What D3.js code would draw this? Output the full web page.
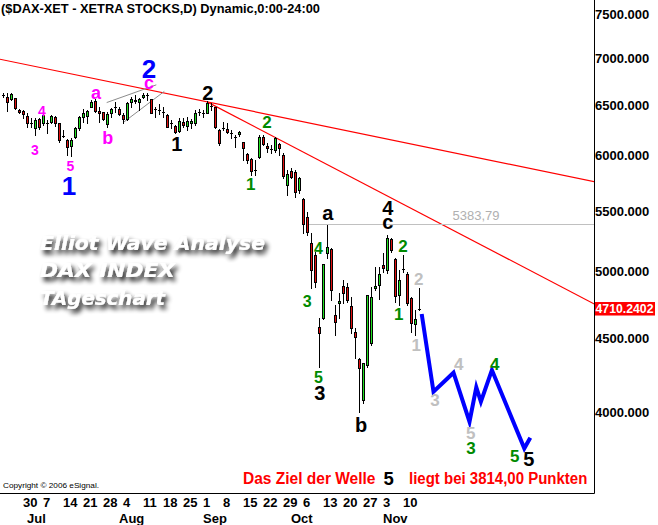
<!DOCTYPE html>
<html><head><meta charset="utf-8">
<script src="https://cdn.jsdelivr.net/npm/d3@7"></script>
<style>body{margin:0;background:#fff}svg{display:block}</style>
</head><body>
<svg id="chart" width="658" height="525"></svg>
<script>
// ---------- data ----------
const firstDay = "2008-06-23";
const lastDay = "2008-11-14";
const open = [6597,6583,6555,6566,6446,6436,6388,6311,6262,6354,
6311,6317,6327,6371,6311,6186,6147,6089,6174,6262,
6378,6385,6480,6541,6436,6425,6301,6412,6480,6456,
6395,6351,6531,6541,6531,6576,6600,6555,6453,6446,
6429,6395,6311,6285,6238,6327,6288,6311,6311,6429,
6412,6418,6487,6474,6245,6262,6252,6219,6180,6203,
6124,6013,5965,5863,5982,6180,6089,6058,6051,6109,
6000,5725,5854,5845,5680,5600,5446,5227,5126,4577,
4638,5140,5172,4662,4749,4881,4875,4729,4541,4347,
4076,4308,4459,4863,4888,5046,5006,5255,5092,4812,
5014,4973,4787,4597,4706];
const high = [6618,6618,6618,6570,6453,6446,6412,6361,6361,6367,
6453,6344,6395,6385,6317,6245,6154,6164,6278,6380,
6453,6446,6548,6555,6480,6429,6429,6463,6531,6474,
6412,6531,6583,6600,6566,6618,6618,6560,6480,6507,
6480,6400,6344,6290,6361,6361,6371,6351,6446,6453,
6446,6541,6514,6480,6250,6327,6311,6245,6196,6238,
6131,6020,5972,5956,6196,6196,6115,6099,6180,6115,
6020,5863,5882,5863,5801,5609,5489,5305,5152,4638,
5055,5375,5180,4737,4825,4927,4901,4799,4565,4354,
4325,4815,4875,5032,5032,5140,5291,5263,5100,5006,
5126,4993,4799,4699,4863];
const low = [6576,6439,6548,6453,6412,6361,6278,6278,6196,6252,
6295,6219,6317,6285,6131,6180,6004,5994,6164,6245,
6327,6311,6478,6429,6327,6344,6278,6378,6429,6395,
6311,6344,6480,6514,6446,6566,6548,6412,6371,6402,
6378,6272,6262,6219,6228,6278,6245,6262,6295,6395,
6378,6412,6446,6262,6099,6245,6212,6164,6083,6186,
5956,5925,5817,5817,5972,6099,6035,6025,6035,6004,
5789,5635,5789,5620,5651,5307,5291,4863,4875,4296,
4630,5100,4774,4518,4638,4749,4761,4530,4354,4002,
4055,4296,4447,4850,4779,4993,4980,5152,4761,4737,
4993,4737,4541,4518,4699];
const close = [6597,6531,6611,6463,6423,6402,6311,6311,6344,6272,
6395,6317,6385,6311,6147,6186,6083,6147,6262,6378,
6418,6439,6528,6439,6412,6351,6402,6453,6480,6402,
6351,6514,6555,6548,6555,6600,6600,6418,6453,6446,
6429,6278,6311,6228,6337,6295,6337,6337,6418,6429,
6412,6514,6487,6278,6121,6262,6222,6219,6180,6222,
6067,5956,5857,5863,6180,6106,6067,6058,6164,6067,
5808,5826,5801,5665,5789,5383,5318,5006,4914,4534,
5052,5188,4850,4614,4769,4825,4774,4565,4506,4286,
4319,4812,4799,4881,4975,5020,5263,5166,4804,4927,
5014,4754,4607,4631,4710];

const priceTicks = [4000,4500,5000,5500,6000,6500,7000,7500];
const dayTicks = ["2008-06-30","2008-07-07","2008-07-14","2008-07-21","2008-07-28",
  "2008-08-04","2008-08-11","2008-08-18","2008-08-25","2008-09-01","2008-09-08",
  "2008-09-15","2008-09-22","2008-09-29","2008-10-06","2008-10-13","2008-10-20",
  "2008-10-27","2008-11-03","2008-11-10"];
const monthNames = ["Jul","Aug","Sep","Oct","Nov"];
const monthStarts = ["2008-07-01","2008-08-01","2008-09-01","2008-10-01","2008-11-03"];

const lastValue = 4710.2402;
const levelValue = 5383.79;
const levelText = "5383,79";
const levelFrom = 75.9;             // bar index where the level line starts

// trend lines: [bar index, price]
const upperTrend = [[-0.9, 6983], [147.7, 5755]];
const lowerTrend = [[50.9, 6528], [147.7, 4744]];
const channelUpper = [[25.8, 6521], [38.2, 6706]];
const channelLower = [[29.95, 6319], [40.2, 6637]];
// projected wave path
const projIdx = [104.55, 107.5, 112.5, 116.5, 118.2, 119.35, 122.1, 130.2, 131.7];
const projVal = [4670, 4130, 4256, 3939, 4159, 4066, 4274, 3777, 3841];

// wave labels: text, bar index, price, degree
const waveText = ["2","1","a","4","3","5","b","c","2","1","2","1","a","4","3","5","3","b","4","c","2","1","2","1","3","4","5","3","4","5","5"];
const waveIdx  = [36.4,16.4,23.1,9.6,7.85,16.75,26.05,36.4,51.1,43.35,65.9,61.8,81.1,78.75,75.9,78.75,79.1,89.4,96.1,96.1,99.9,98.8,103.8,103.2,107.9,113.8,116.8,116.9,122.8,127.8,131.3];
const waveVal  = [6877,5716,6610,6440,6051,5900,6167,6716,6627,6108,6328,5739,5460,5183,4763,4224,4125,3920,5521,5384,5199,4670,4935,4450,4076,4314,3869,3779,4314,3734,3714];
const waveDeg  = ["cycle","cycle","minorL","minor","minor","minor","minorL","minorL","primary","primary","minute","minute","primary","minuteS","minuteS","minuteS","primary","primary","primary","primary","minute","minute","minuette","minuette","minuette","minuette","minuette","minute","minute","minute","primary"];

const titleText = "($DAX-XET - XETRA STOCKS,D) Dynamic,0:00-24:00";
const overlayLines = ["Elliot Wave Analyse","DAX INDEX","TAgeschart"];
const noteParts = ["Das Ziel der Welle","5","liegt bei 3814,00 Punkten"];
const copyright = "Copyright \u00A9 2006 eSignal.";

// ---------- styles ----------
const degStyle = {
  cycle:   {fill:"#0000ff", size:26},
  primary: {fill:"#000000", size:20},
  minor:   {fill:"#ff00ff", size:14},
  minorL:  {fill:"#ff00ff", size:18},
  minute:  {fill:"#008a00", size:17},
  minuteS: {fill:"#008a00", size:16},
  minuette:{fill:"#c0c0c0", size:17}
};
const FONT = "'Liberation Sans', Arial, sans-serif";
const overlayWidths = [225, 135, 125];

// ---------- scales ----------
const parse = d3.timeParse("%Y-%m-%d");
const fmtKey = d3.timeFormat("%Y-%m-%d");
const days = d3.timeDay.range(parse(firstDay), d3.timeDay.offset(parse(lastDay), 1))
  .filter(d => d.getDay() !== 0 && d.getDay() !== 6);
const dayIndex = new Map(days.map((d, i) => [fmtKey(d), i]));
const bars = days.map((d, i) => ({i, o: open[i], h: high[i], l: low[i], c: close[i]}));

const x = d3.scaleLinear().domain([0, days.length - 1]).range([3.5, 3.5 + 4 * (days.length - 1)]);
const y = d3.scaleLog().domain([4000, 7500]).range([412, 14]);
const AX = 594.5, BY = 493.5;

const svg = d3.select("#chart");
svg.append("rect").attr("width", 658).attr("height", 525).attr("fill", "#fff");

const defs = svg.append("defs");
defs.append("clipPath").attr("id", "plot").append("rect").attr("x", 0).attr("y", 0).attr("width", 594).attr("height", 493);
const f = defs.append("filter").attr("id", "shadow").attr("x", "-10%").attr("y", "-30%").attr("width", "130%").attr("height", "180%");
f.append("feGaussianBlur").attr("in", "SourceAlpha").attr("stdDeviation", 2.6).attr("result", "b");
f.append("feOffset").attr("in", "b").attr("dx", 3).attr("dy", 4).attr("result", "o");
f.append("feComponentTransfer").attr("in", "o").attr("result", "s")
  .append("feFuncA").attr("type", "linear").attr("slope", 0.95);
const fm = f.append("feMerge");
fm.append("feMergeNode").attr("in", "s");
fm.append("feMergeNode").attr("in", "SourceGraphic");

const plot = svg.append("g").attr("clip-path", "url(#plot)");

// title
svg.append("text").attr("x", 1).attr("y", 12.5).attr("font-family", FONT).attr("font-weight", "bold")
  .attr("font-size", 13).attr("textLength", 319).attr("lengthAdjust", "spacingAndGlyphs").text(titleText);

// overlay text
const ov = plot.append("g").attr("filter", "url(#shadow)");
overlayLines.forEach((t, k) => {
  ov.append("text").attr("x", 40).attr("y", 249.5 + k * 27.5)
    .attr("font-family", "'DejaVu Sans', Verdana, sans-serif").attr("font-weight", "bold")
    .attr("font-style", "italic").attr("font-size", 20).attr("fill", "#fff")
    .attr("textLength", overlayWidths[k]).attr("lengthAdjust", "spacingAndGlyphs").text(t);
});

// trend lines
const lineGen = d3.line().x(d => x(d[0])).y(d => y(d[1]));
plot.append("path").attr("d", lineGen(upperTrend)).attr("stroke", "#ff0000").attr("stroke-width", 1.2).attr("fill", "none");
plot.append("path").attr("d", lineGen(lowerTrend)).attr("stroke", "#ff0000").attr("stroke-width", 1.2).attr("fill", "none");
plot.append("path").attr("d", lineGen(channelUpper)).attr("stroke", "#8c8c8c").attr("stroke-width", 1).attr("fill", "none");
plot.append("path").attr("d", lineGen(channelLower)).attr("stroke", "#8c8c8c").attr("stroke-width", 1).attr("fill", "none");

// level line
const ly = Math.round(y(levelValue)) + 0.5;
plot.append("line").attr("x1", x(levelFrom)).attr("x2", AX).attr("y1", ly).attr("y2", ly)
  .attr("stroke", "#c0c0c0").attr("stroke-width", 1);
plot.append("text").attr("x", 476).attr("y", ly - 5).attr("text-anchor", "middle")
  .attr("font-family", FONT).attr("font-size", 13).attr("fill", "#b0b0b0").text(levelText);

// candles
const cg = plot.append("g");
bars.forEach(b => {
  const cx = x(b.i);
  cg.append("line").attr("x1", cx).attr("x2", cx)
    .attr("y1", Math.round(y(b.h))).attr("y2", Math.round(y(b.l)) + 1)
    .attr("stroke", "#000").attr("stroke-width", 1);
  const yt = Math.round(y(Math.max(b.o, b.c))), yb = Math.round(y(Math.min(b.o, b.c)));
  if (yb - yt < 1) {
    cg.append("line").attr("x1", cx - 1.5).attr("x2", cx + 1.5).attr("y1", yt + 0.5).attr("y2", yt + 0.5)
      .attr("stroke", "#000").attr("stroke-width", 1);
  } else {
    cg.append("rect").attr("x", cx - 1).attr("width", 2).attr("y", yt + 0.5).attr("height", yb - yt)
      .attr("fill", b.c >= b.o ? "#22e022" : "#e01010").attr("stroke", "#000").attr("stroke-width", 1);
  }
});

// projection
plot.append("path").attr("d", d3.line().x(d => x(d[0])).y(d => y(d[1]))(projIdx.map((v, k) => [v, projVal[k]])))
  .attr("stroke", "#0000ff").attr("stroke-width", 4).attr("fill", "none")
  .attr("stroke-linejoin", "miter").attr("stroke-linecap", "butt");

// wave labels
waveText.forEach((t, k) => {
  const st = degStyle[waveDeg[k]];
  const off = /[ace]/.test(t) ? 0.27 : 0.36;
  plot.append("text").attr("x", x(waveIdx[k])).attr("y", y(waveVal[k]) + off * st.size)
    .attr("text-anchor", "middle").attr("font-family", FONT).attr("font-weight", "bold")
    .attr("font-size", st.size).attr("fill", st.fill).text(t);
});

// target note
const nb = 484;
svg.append("text").attr("x", 243).attr("y", nb).attr("font-family", FONT).attr("font-weight", "bold")
  .attr("font-size", 16).attr("fill", "#ff0000").attr("textLength", 132.5).attr("lengthAdjust", "spacingAndGlyphs").text(noteParts[0]);
svg.append("text").attr("x", 383.5).attr("y", nb + 1).attr("font-family", FONT).attr("font-weight", "bold")
  .attr("font-size", 18.5).attr("fill", "#000").text(noteParts[1]);
svg.append("text").attr("x", 409).attr("y", nb).attr("font-family", FONT).attr("font-weight", "bold")
  .attr("font-size", 16).attr("fill", "#ff0000").attr("textLength", 178.3).attr("lengthAdjust", "spacingAndGlyphs").text(noteParts[2]);

svg.append("text").attr("x", 3).attr("y", 488).attr("font-family", FONT).attr("font-size", 8)
  .attr("textLength", 96).attr("lengthAdjust", "spacingAndGlyphs").text(copyright);

// frame
svg.append("line").attr("x1", AX).attr("x2", AX).attr("y1", 0).attr("y2", BY).attr("stroke", "#000");
svg.append("line").attr("x1", 0).attr("x2", AX).attr("y1", BY).attr("y2", BY).attr("stroke", "#000");

// right axis labels
const yAxis = d3.axisRight(y).tickValues(priceTicks).tickFormat(d3.format(".3f")).tickSize(0).tickPadding(0);
const ya = svg.append("g").attr("transform", `translate(${AX + 0.5},0)`).call(yAxis);
ya.select(".domain").remove();
ya.selectAll("text").attr("font-family", FONT).attr("font-weight", "bold").attr("font-size", 13)
  .attr("fill", "#000").attr("dy", "0.36em");

// last value box
const lv = y(lastValue);
svg.append("rect").attr("x", 595).attr("y", lv - 6.5).attr("width", 60).attr("height", 13.5).attr("fill", "#ff0000");
svg.append("text").attr("x", 595.5).attr("y", lv + 4.7).attr("font-family", FONT).attr("font-weight", "bold")
  .attr("font-size", 13).attr("fill", "#fff").attr("textLength", 58).attr("lengthAdjust", "spacingAndGlyphs")
  .text(d3.format(".4f")(lastValue));

// date axis
const dayFmt = d3.timeFormat("%-d");
svg.append("g").selectAll("text").data(dayTicks).join("text")
  .attr("x", d => x(dayIndex.get(d)) - 0.5).attr("y", 506.5)
  .attr("font-family", FONT).attr("font-weight", "bold").attr("font-size", 13)
  .text(d => dayFmt(parse(d)));
svg.append("g").selectAll("text").data(monthStarts).join("text")
  .attr("x", d => x(dayIndex.get(d)) - 0.5).attr("y", 523)
  .attr("font-family", FONT).attr("font-weight", "bold").attr("font-size", 13)
  .text((d, k) => monthNames[k]);
</script>
</body></html>
